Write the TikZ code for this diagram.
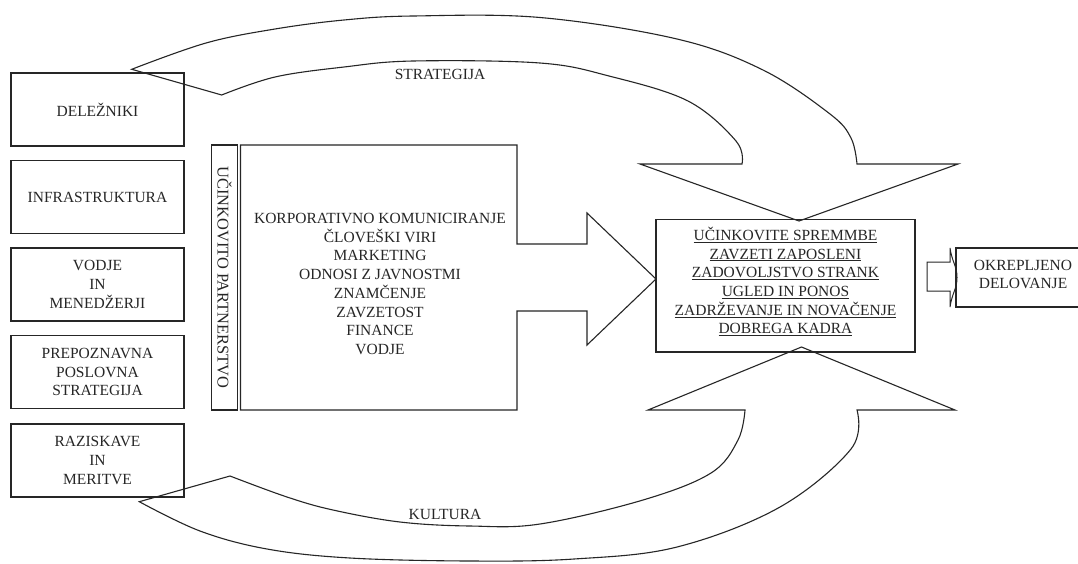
\documentclass[tikz,border=0pt]{standalone}
\usepackage{fontspec}
\setmainfont{Liberation Serif}
\begin{document}
\begin{tikzpicture}[x=1pt,y=-1pt,
  line/.style={draw=black!85,line width=1.1pt,line join=miter},
  lbox/.style={line,rectangle,minimum width=173pt,minimum height=73pt,inner sep=0pt,align=center,
    font=\fontsize{15.5}{18.8}\selectfont,text=black!85},
  txt/.style={align=center,inner sep=0pt,font=\fontsize{15.5}{18.8}\selectfont,text=black!85}]
\useasboundingbox[fill=white] (0,0) rectangle (1078,563);

% left column
\node[lbox] (del) at (97.5,109.5) {DELEŽNIKI};
\node[lbox] (inf) at (97.5,197) {INFRASTRUKTURA};
\node[lbox] (vod) at (97.5,284.5) {VODJE\\IN\\MENEDŽERJI};
\node[lbox] (pre) at (97.5,372) {PREPOZNAVNA\\POSLOVNA\\STRATEGIJA};
\node[lbox] (raz) at (97.5,460.5) {RAZISKAVE\\IN\\MERITVE};

% vertical partnership box
\node[line,rectangle,rotate=-90,minimum width=265pt,minimum height=25.8pt,inner sep=0pt,
  font=\fontsize{16.4}{18}\selectfont,text=black!85] (part) at (224.6,277.5) {UČINKOVITO PARTNERSTVO};

% big block arrow with list
\draw[line] (240.5,145) -- (517,145) -- (517,244) -- (587,244) -- (587,213) -- (656,279)
  -- (587,345) -- (587,311) -- (517,311) -- (517,410) -- (240.5,410) -- cycle;
\node[txt,font=\fontsize{15.5}{18.7}\selectfont] (list) at (380,284) {KORPORATIVNO KOMUNICIRANJE\\ČLOVEŠKI VIRI\\MARKETING\\ODNOSI Z JAVNOSTMI\\ZNAMČENJE\\ZAVZETOST\\FINANCE\\VODJE};

% result box
\node[line,rectangle,minimum width=259pt,minimum height=132.5pt,inner sep=0pt] (res) at (785.5,285.75) {};
\node[txt,font=\fontsize{15.5}{18.7}\selectfont] (restext) at (785.5,281.5)
  {\underline{UČINKOVITE SPREMMBE}\\\underline{ZAVZETI ZAPOSLENI}\\\underline{ZADOVOLJSTVO STRANK}\\\underline{UGLED IN PONOS}\\\underline{ZADRŽEVANJE IN NOVAČENJE}\\\underline{DOBREGA KADRA}};

% small arrow and final box
\coordinate (sa) at (927,262);
\draw[line,line width=1pt] (sa) -- (950,262) -- (950,248) .. controls (952,262) and (957,266) .. (957,277.5)
  .. controls (957,289) and (952,293) .. (950,307) -- (950,291) -- (927,291) -- cycle;
\node[txt] (okr) at (1023,274.5) {OKREPLJENO\\DELOVANJE};
\draw[line] (1078,248) -- (956,248) -- (956,307) -- (1078,307);

% top curved arrow (STRATEGIJA)
\draw[line] (131.7,69.3) -- plot[smooth,tension=0.6] coordinates {(131.7,69.3) (206,43) (275,29) (344,20) (413,16) (540,17.5) (677,39) (763,70) (830,114) (851,138) (857,164)}
  -- (958,164) -- (799,221) -- (640,164) -- (742,164)
  -- plot[smooth,tension=0.6] coordinates {(742,164) (736,141) (688,101) (609,76) (540,63) (413,61) (344,67) (275,77) (221.7,95)}
  -- cycle;
\node[txt] (strat) at (440,74) {STRATEGIJA};

% bottom curved arrow (KULTURA)
\draw[line] (230,476) -- plot[smooth,tension=0.6] coordinates {(230,476) (287,497) (333,510) (400,522) (470,526) (540,524) (643,500) (711,473) (738,440) (745,410)}
  -- (648,410) -- (801.5,347) -- (955,410) -- (857,410)
  -- plot[smooth,tension=0.6] coordinates {(857,410) (851,449) (780,507) (677,547) (574,559) (470,561) (350,558) (267,549) (200,531) (139.3,501.7)}
  -- cycle;
\node[txt] (kult) at (445,514) {KULTURA};
\end{tikzpicture}
\end{document}
